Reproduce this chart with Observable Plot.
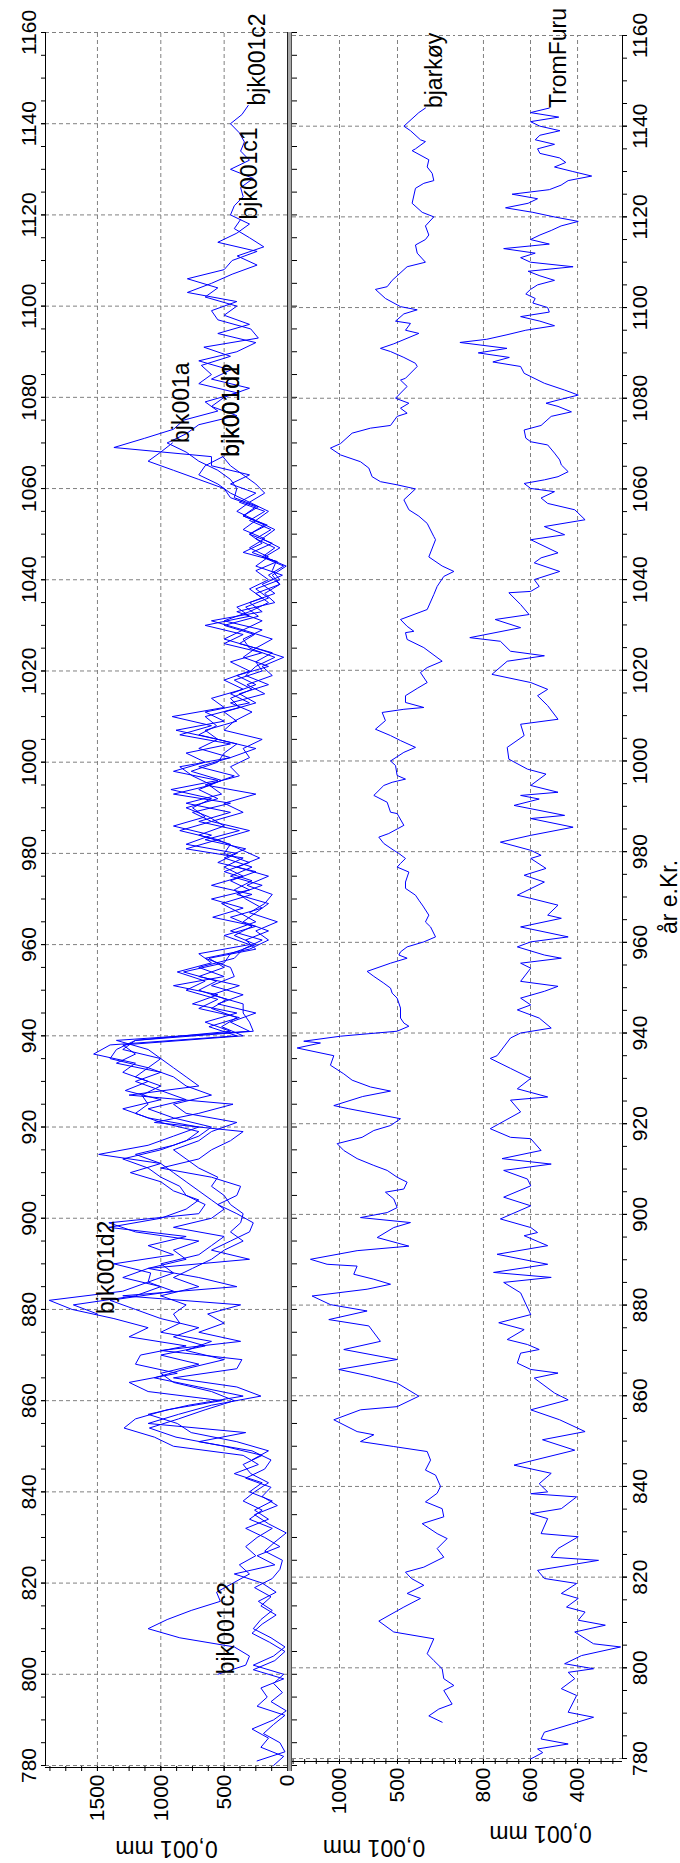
<!DOCTYPE html>
<html><head><meta charset="utf-8">
<script src="https://cdn.jsdelivr.net/npm/d3@7"></script>
<script src="https://cdn.jsdelivr.net/npm/@observablehq/plot@0.6"></script>
<style>
html,body{margin:0;padding:0;background:#fff;width:680px;height:1863px;overflow:hidden}
#rot{position:absolute;left:0;top:0;width:1863px;height:680px;transform-origin:0 0;transform:translate(0px,1863px) rotate(-90deg)}
#rot svg{position:absolute;left:0;top:0}
#split{position:absolute;left:92px;top:287px;width:1739px;height:3px;background:#a8a8a8;border-top:1px solid #202020;border-bottom:1px solid #505050}
</style></head><body><div id="rot"></div>
<script>
// ---------- tick labels ----------
const yearMajor = [780,800,820,840,860,880,900,920,940,960,980,1000,1020,1040,1060,1080,1100,1120,1140,1160];
const yearMinor = d3.range(780, 1161, 5);
const topTicks = [0,500,1000,1500];
const midTicks = [500,1000];
const botTicks = [400,600,800];

// ---------- top panel series (2-year readings) ----------
const aStart = 780;
const aVals = [110,30,210,150,280,110,10,130,40,110,
30,270,110,20,130,270,210,120,230,90,
200,420,100,240,60,180,330,150,260,120,
300,200,420,230,350,900,1050,1290,1200,950,
520,1100,1250,870,1200,1160,800,1250,1100,1370,
1700,1880,1300,1100,1080,1370,900,1100,800,1410,
1000,800,700,900,1000,1240,1000,1490,1100,900,
700,1100,1300,1000,1280,1100,1300,1200,1530,1400,
400,620,380,700,550,800,650,870,600,700,
300,500,250,590,350,600,300,450,250,550,
400,800,600,900,650,750,600,920,550,900,
650,800,450,850,600,910,500,600,350,500,
300,450,200,500,350,650,300,400,200,300,
150,250,80,350,200,300,180,350,250,450,
500,700,900,1100,1000,908];

const d1Start = 781;
const d1Vals = [240,20,60,190,110,20,240,160,210,30,
270,100,20,140,280,200,90,210,130,260,
120,60,40,180,100,10,150,260,80,200,
130,330,180,130,280,700,330,1100,860,600,
210,400,900,400,360,1000,370,700,500,630,
370,1300,400,700,1100,300,600,450,300,270,
400,550,400,370,600,1000,700,600,450,350,
1050,700,430,1250,700,800,900,1000,1100,1350,
300,450,250,550,350,600,420,450,650,300,
150,250,80,300,180,120,320,150,400,220,
380,550,300,600,350,500,250,650,380,450,
300,350,200,500,420,280,450,180,320,120,
200,30,250,120,350,200,400,100,180,60,
120,10,180,60,200,100,250,150,300,180,
250,350,450,510];

const c2Start = 800;
const c2Vals = [550,330,300,420,850,1100,950,760,530,560,
430,300,380,250,330,240,120,300,200,350,
260,150,290,350,200,500,880,1090,860,650,
420,600,900,1000,700,1000,650,900,700,1000,
1200,1400,900,1100,900,1000,700,600,500,900,
600,500,600,700,800,900,1000,1200,900,700,
600,900,1100,800,1000,1200,1000,1350,1200,1300,
350,520,400,600,480,700,560,820,500,450,
250,420,280,450,200,330,420,280,500,300,
500,450,700,500,620,800,550,700,520,760,
550,500,400,700,560,650,380,450,280,420,
200,250,120,380,260,500,230,330,150,250,
60,120,90,280,120,300,160,350,230,420,
400,450,550,700,800,950,800,700,400,600,
500,300,600,450,700,400,250,550,300,500,
400,650,550,790,500,437,240,550,400,300,
450,420,350,370,270,450,300,370,340,380,
450,360,310];

const c1Start = 847;
const c1Vals = [280,150,400,760,870,1100,780,350,700,1050,
800,500,800,600,1000,850,900,800,1000,700,
900,750,600,500,350,450,370,350,450,500,
600,550,700,800,900,700,600,400,800,900,
600,800,900,1100,1000,1300,1200,270,300,350,
350,600,380,700,500,620,250,330,150,350,
250,150,400,200,450,280,500,330,650,380,
700,450,800,520,620,420,700,450,250,550,
650,400,500,250,380,150,330,250,100,300,
350,200,500,300,150,250,60,150,30,200,
100,250,130,300,180,380,250,450,300,600,
600,1370,1130,900,820,550,650,400,700,600,
680,450,660,230,290,550,600,400,790,600,
437,240,397,187,300,420,370];

const d2Start = 879;
const d2Vals = [1500,1690,1200,1000,1300,1100,800,900,700,1200,
1410,700,650,800,850,1000,1100,1300,1000,800,
700,1000,1200,1100,1150,1000,1200,1100,1400,1350,
1200,450,650,400,750,550,900,500,700,420,
350,200,450,250,380,520,280,600,350,500,
350,800,550,850,600,750,450,900,600,750,
850,450,700,550,880,500,650,300,450,250,
400,150,350,250,500,350,600,200,300,100,
200,40,250,150,300,180,350,250,400,300,
450,550,700,650,510];

const topSeries = [
  ["bjk001a", aStart, aVals],
  ["bjk001d1", d1Start, d1Vals],
  ["bjk001c2", c2Start, c2Vals],
  ["bjk001c1", c1Start, c1Vals],
  ["bjk001d2", d2Start, d2Vals]
];
const topLabelSpec = [["bjk001c2","first"],["bjk001c2","last"],["bjk001d2","first"],["bjk001d2","last"],["bjk001d1","last"],["bjk001a","last"],["bjk001c1","last"]];

// ---------- bjarkøy [year, value] ----------
const bjarkoy = [[788,115],[789.4,230],[790.9,144],[792,29],[795,101],[796.1,14],[797.6,101],[799.8,115],[801.6,187],[803.1,244],[806.4,187],[807.9,532],[810.3,661],[813.4,445],[815.3,302],[816.4,417],[818.2,273],[819.7,380],[821.1,431],[822.2,273],[824.4,101],[826.3,158],[828.5,72],[829.6,158],[831.8,287],[833.3,101],[835.1,115],[836.6,259],[838.5,158],[840,129],[842.5,172],[843.6,259],[845.8,215],[847.7,244],[848.8,532],[849.9,819],[851.4,704],[852.1,848],[854.7,1049],[856.9,819],[857.6,503],[859.9,316],[862.8,503],[864.3,733],[865.8,1006],[868,503],[870.2,963],[872,647],[875.4,747],[876.8,1092],[878.7,762],[880.1,1078],[882,1236],[883.5,762],[884.6,560],[885.7,704],[886.8,877],[888.6,848],[889,1107],[890.1,1250],[892,848],[893,402],[894.9,675],[897.1,532],[898.2,388],[899.3,819],[900.4,589],[901.5,503],[903.4,532],[904.9,604],[905.6,445],[907.1,417],[908.2,503],[909.7,589],[910.8,704],[912.3,848],[914.1,963],[915.6,1020],[917,805],[918.5,704],[919.6,560],[921.1,474],[923.3,920],[924,1049],[926,800],[927.2,560],[928.1,733],[929.6,891],[931,963],[932.9,1078],[935,1049],[936.7,1365],[937.8,1164],[938.2,1308],[939.3,991],[940.4,503],[941.5,402],[942.2,445],[943.3,474],[945.5,474],[947.7,503],[948.8,546],[949.9,560],[951,618],[952.5,704],[953.6,762],[955.4,560],[956.5,417],[957.2,488],[957.9,474],[959,417],[960.1,273],[961.2,172],[963.4,215],[964.5,259],[966,230],[968,280],[969.3,316],[970.4,345],[971.9,431],[973.3,431],[975.5,402],[976.6,503],[977.4,474],[978.5,431],[979.6,488],[980.3,532],[981.8,618],[983.2,661],[984,575],[985,503],[985.8,445],[988.4,503],[988.7,560],[990.9,589],[992.4,704],[994.6,618],[995.3,546],[996,431],[996.8,503],[999,517],[1000,560],[1001.9,445],[1003,345],[1004.5,474],[1005.6,560],[1007,690],[1008.9,604],[1010.7,632],[1011.4,445],[1011.8,273],[1012.9,431],[1014.4,431],[1016,330],[1017.3,244],[1019.5,302],[1020.6,244],[1022,115],[1025,273],[1026.8,417],[1028.3,431],[1028.6,359],[1029.7,417],[1031.2,474],[1033.4,244],[1036.7,187],[1038.5,158],[1040.7,101],[1041.8,14],[1043,115],[1045,230],[1048.8,172],[1049.5,187],[1052.4,244],[1054,316],[1055.4,402],[1057.6,445],[1060,345],[1060.9,503],[1061.6,647],[1062.7,719],[1064.6,747],[1066,819],[1067.5,991],[1069,1078],[1070,991],[1072.3,891],[1073.4,733],[1074,560],[1076,503],[1076.7,417],[1077.8,474],[1078.9,402],[1080,517],[1082.6,417],[1084,474],[1084.4,431],[1087,330],[1087.7,345],[1089,445],[1090.3,560],[1091,647],[1092,532],[1094.3,316],[1095,431],[1096.5,388],[1097,517],[1098.6,445],[1099.5,330],[1100.2,474],[1102,604],[1104,690],[1104.6,589],[1106,546],[1107,503],[1109,417],[1110,259],[1112,330],[1113.8,345],[1115,259],[1116,230],[1118,259],[1120,187],[1121,287],[1123,374],[1126.3,345],[1127.4,273],[1128,187],[1129.6,201],[1131,244],[1132.6,230],[1134.6,374],[1135,345],[1136.6,259],[1137,302],[1139,388],[1140,445],[1143,316],[1144,259]];

// ---------- TromFuru [year, value] ----------
const tromFuru = [[779.9,599],[781.3,548],[782.1,570],[783.2,440],[784.3,555],[785.8,541],[787.6,426],[789.1,332],[790.2,440],[793.9,404],[795.4,469],[797.6,412],[799,440],[799.8,332],[800.9,455],[802.7,383],[804.6,217],[805.3,332],[807.9,412],[809.4,282],[810.5,397],[812.3,368],[813.4,447],[815.3,397],[816.4,469],[818.6,404],[819.7,541],[821.5,570],[823.7,311],[824.4,512],[826.3,483],[828.9,397],[829.6,555],[832.9,527],[834,599],[835.1,469],[837.7,404],[838.4,599],[838.8,527],[840.6,563],[842.9,512],[844.7,670],[848,412],[850.3,549],[852.1,368],[854.7,476],[856.9,599],[859.1,440],[860.6,498],[863.9,584],[865,483],[865.8,599],[867.2,656],[869.4,642],[870.2,563],[871.3,613],[872.4,699],[874.6,627],[876.1,735],[877.9,599],[882.7,642],[885,714],[886.1,512],[887.2,757],[889,527],[891.2,742],[893.1,527],[895.3,627],[896,570],[897.1,599],[899,728],[901.9,599],[903.8,714],[906.3,599],[907.8,613],[909.7,714],[911.1,512],[912.3,721],[914.1,555],[916.7,599],[917,685],[918.9,771],[922.6,642],[925.2,685],[925.9,527],[927.7,656],[930,599],[932.2,685],[934.4,771],[935,742],[938.9,685],[940,642],[941.1,512],[943.3,563],[945.1,656],[946.2,599],[947.7,642],[949.2,541],[950.3,483],[951.4,642],[954.3,599],[955.4,642],[956.5,469],[957.2,541],[959,656],[960.1,599],[961.2,440],[963.4,642],[965.3,469],[966,527],[968.2,483],[969.7,599],[970.4,656],[973.3,541],[974.8,627],[976.3,534],[978.5,599],[979.2,555],[980.3,599],[982.1,728],[983.6,599],[985.4,419],[987.3,599],[988,455],[990.2,670],[991.6,563],[992.4,642],[993.1,483],[994.6,599],[997.1,534],[998.2,613],[1000.4,692],[1003,699],[1005.6,627],[1008.1,642],[1009.2,483],[1012.2,527],[1014.4,570],[1015.8,527],[1017.3,599],[1019.1,764],[1022,699],[1023.2,541],[1024.2,685],[1026.4,728],[1027.2,858],[1029.4,642],[1031.2,750],[1032.3,606],[1034.5,642],[1037.1,692],[1037.4,599],[1038.5,563],[1040,584],[1041.8,476],[1043.7,584],[1044.8,555],[1045.9,483],[1048.8,599],[1049.9,455],[1051.7,541],[1053.2,368],[1055.4,412],[1056.8,527],[1058,555],[1059.4,498],[1060.1,599],[1061.2,627],[1062,541],[1062.7,483],[1063.8,440],[1065.3,469],[1066.4,476],[1067.9,498],[1069.7,527],[1070.4,599],[1071.2,620],[1073,627],[1074,555],[1076,512],[1077,426],[1078.2,483],[1078.9,534],[1079.6,483],[1080.7,397],[1081.8,455],[1083.3,541],[1085.5,627],[1087,642],[1088,760],[1089,690],[1090,822],[1091,700],[1092.3,900],[1093,786],[1094,700],[1095,620],[1096,498],[1097,560],[1098,642],[1099,520],[1100,527],[1101,590],[1102,580],[1103,620],[1104,600],[1105,570],[1106,498],[1107,560],[1108,610],[1109,419],[1110,600],[1111,642],[1112,580],[1113,714],[1114,520],[1115,600],[1116,560],[1117,512],[1118,470],[1119,397],[1120,500],[1121,590],[1122,706],[1123,610],[1124,570],[1125,678],[1126,520],[1127,470],[1128,440],[1129,340],[1130,420],[1131,498],[1132,450],[1133,476],[1134,560],[1135,570],[1136,498],[1137,580],[1138,560],[1139,475],[1140,560],[1141,600],[1142,480],[1143,600],[1144,520]];

// ---------- build tables ----------
const topRows = topSeries.flatMap(([name, start, vals]) => vals.map((v, i) => ({series: name, year: start + 2 * i, value: v})));
const topLabels = topLabelSpec.map(([name, which]) => {
  const rows = topRows.filter(r => r.series === name);
  const r = which === "first" ? rows[0] : rows[rows.length - 1];
  return {series: name, year: r.year, value: r.value};
});
const midRows = bjarkoy.map(([year, value]) => ({series: "bjarkøy", year, value}));
const botRows = tromFuru.map(([year, value]) => ({series: "TromFuru", year, value}));
const midLabel = [midRows[midRows.length - 1]];
const botLabel = [botRows[botRows.length - 1]];

const FONT = "'Liberation Sans', Arial, Helvetica, sans-serif";
const W = 1863, H = 680;
const fmt = d => String(d);
const grid = {stroke: "#808080", strokeOpacity: 1, strokeWidth: 1, strokeDasharray: "4,3"};
const blank = () => "";
const lineStyle = {x: "year", y: "value", stroke: "#0000ff", strokeWidth: 1};
const labelStyle = {x: "year", y: "value", text: "series", textAnchor: "start", lineAnchor: "top", fontSize: 23, fill: "#000"};
const unitText = (dx) => Plot.text(["0,001 mm"], {text: d => d, frameAnchor: "left", rotate: -90, dx, textAnchor: "middle", lineAnchor: "bottom", fontSize: 23, fill: "#000"});
const base = {width: W, height: H, style: {background: "none", fontFamily: FONT, fontSize: "21px", color: "#000", overflow: "visible"}};

const topPlot = Plot.plot({
  ...base,
  marginLeft: 97, marginRight: 33, marginTop: 45, marginBottom: 393,
  x: {domain: [780, 1160], label: null, axis: null},
  y: {domain: [0, 1910], label: null, axis: null},
  marks: [
    Plot.gridX(yearMajor, grid),
    Plot.gridY([500, 1000, 1500], grid),
    Plot.axisX({anchor: "top", ticks: yearMajor, tickFormat: fmt, tickSize: 5, tickPadding: 5, label: null, fontSize: 21}),
    Plot.axisX({anchor: "top", ticks: yearMinor, tickSize: 5, tickFormat: blank, label: null}),
    Plot.axisX({anchor: "bottom", ticks: yearMinor, tickSize: 10, tickFormat: blank, label: null}),
    Plot.axisY({anchor: "left", ticks: topTicks, tickFormat: fmt, tickSize: 5, tickPadding: 4, label: null, fontSize: 21}),
    Plot.axisY({anchor: "left", ticks: d3.range(0, 1911, 125), tickSize: 5, tickFormat: blank, label: null}),
    Plot.ruleY([1910], {stroke: "#000"}),
    Plot.ruleX([780], {stroke: "#000", dx: -2}),
    Plot.line(topRows, {...lineStyle, z: "series"}),
    Plot.text(topLabels, labelStyle),
    unitText(-75)
  ]
});

const midPlot = Plot.plot({
  ...base,
  marginLeft: 104, marginRight: 36, marginTop: 292, marginBottom: 225,
  x: {domain: [780, 1160], label: null, axis: null},
  y: {domain: [0, 1405], label: null, axis: null},
  marks: [
    Plot.gridX(yearMajor, grid),
    Plot.gridY([500, 1000], grid),
    Plot.axisY({anchor: "left", ticks: midTicks, tickFormat: fmt, tickSize: 5, tickPadding: 4, label: null, fontSize: 21}),
    Plot.axisY({anchor: "left", ticks: d3.range(0, 1401, 100), tickSize: 5, tickFormat: blank, label: null}),
    Plot.ruleX([780], {stroke: "#000", dx: -3}),
    Plot.line(midRows, lineStyle),
    Plot.text(midLabel, labelStyle),
    unitText(-81)
  ]
});

const botPlot = Plot.plot({
  ...base,
  marginLeft: 104, marginRight: 36, marginTop: 458, marginBottom: 58,
  x: {domain: [780, 1160], label: null, axis: null},
  y: {domain: [209, 906], label: null, axis: null},
  marks: [
    Plot.gridX(yearMajor, grid),
    Plot.gridY([400, 600, 800], grid),
    Plot.axisX({anchor: "bottom", ticks: yearMajor, tickFormat: fmt, tickSize: 5, tickPadding: 5, label: null, fontSize: 21}),
    Plot.axisX({anchor: "bottom", ticks: yearMinor, tickSize: 5, tickFormat: blank, label: null}),
    Plot.axisY({anchor: "left", ticks: botTicks, tickFormat: fmt, tickSize: 5, tickPadding: 4, label: null, fontSize: 21}),
    Plot.axisY({anchor: "left", ticks: d3.range(250, 901, 50), tickSize: 5, tickFormat: blank, label: null}),
    Plot.ruleY([209], {stroke: "#000"}),
    Plot.ruleX([780], {stroke: "#000", dx: -3}),
    Plot.line(botRows, lineStyle),
    Plot.text(botLabel, labelStyle),
    unitText(-67),
    Plot.text(["år e.Kr."], {text: d => d, frameAnchor: "bottom", dy: 54, lineAnchor: "bottom", textAnchor: "middle", fontSize: 23, fill: "#000"})
  ]
});

const rot = document.getElementById("rot");
rot.append(topPlot, midPlot, botPlot);
const split = document.createElement("div");
split.id = "split";
rot.append(split);
</script></body></html>
